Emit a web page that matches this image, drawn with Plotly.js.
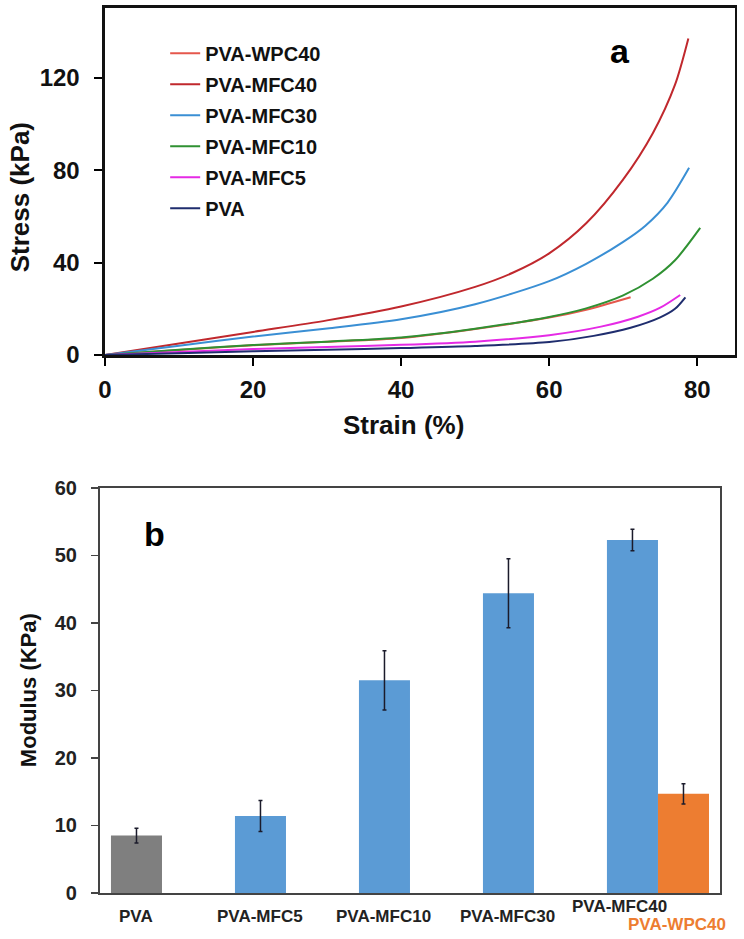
<!DOCTYPE html>
<html>
<head>
<meta charset="utf-8">
<script src="https://cdn.plot.ly/plotly-3.0.1.min.js"></script>
<style>
  html, body { margin: 0; padding: 0; background: #fff; }
  #chart { width: 744px; height: 939px; }
</style>
</head>
<body>
<div id="chart"></div>
<script>
// (a) stress-strain curves
var wpc40_strain = [0, 10, 20, 30, 40, 50, 60, 65, 71];
var wpc40_stress = [0, 2.2, 4.2, 5.7, 7.4, 11.3, 16.2, 19.6, 25];

var mfc40_strain = [0, 10, 20, 30, 40, 50, 55, 60, 65, 70, 74, 77, 78.8];
var mfc40_stress = [0, 5, 10, 15, 21, 29.5, 35.5, 44, 57, 76, 96, 117, 137];

var mfc30_strain = [0, 10, 20, 30, 40, 50, 60, 65, 70, 73, 76, 78.9];
var mfc30_stress = [0, 4, 8, 11.5, 15.5, 22, 32, 39.5, 49, 56, 66, 81];

var mfc10_strain = [0, 10, 20, 30, 40, 50, 60, 65, 70, 74, 77, 80.4];
var mfc10_stress = [0, 2.3, 4.3, 5.8, 7.6, 11.4, 16.5, 20.2, 25.8, 33, 41, 55];

var mfc5_strain = [0, 10, 20, 30, 40, 50, 60, 67, 72, 75, 77.7];
var mfc5_stress = [0, 1.3, 2.6, 3.5, 4.4, 5.8, 8.6, 12.3, 16.6, 20.5, 26];

var pva_strain = [0, 10, 20, 30, 40, 50, 60, 66, 71, 75, 77, 78.4];
var pva_stress = [0, 0.8, 1.6, 2.3, 3, 3.9, 5.6, 8.3, 11.8, 16.3, 20, 25];

// (b) modulus bars
var categories = ['PVA', 'PVA-MFC5', 'PVA-MFC10', 'PVA-MFC30', 'PVA-MFC40'];
var modulus = [8.5, 11.4, 31.5, 44.4, 52.3];
var modulus_err = [1.1, 2.3, 4.4, 5.1, 1.6];
var wpc_modulus = [null, null, null, null, 14.7];
var wpc_err = [0, 0, 0, 0, 1.5];

var FONT = '"Liberation Sans", Arial, sans-serif';

function curve(name, xs, ys, color) {
	return {
		x: xs, y: ys, name: name, legendgroup: name,
		type: 'scatter', mode: 'lines',
		line: {color: color, width: 2, shape: 'spline', smoothing: 0.8},
		xaxis: 'x', yaxis: 'y'
	};
}

var data = [
	curve('PVA-WPC40', wpc40_strain, wpc40_stress, '#e5574c'),
	curve('PVA-MFC40', mfc40_strain, mfc40_stress, '#c0282d'),
	curve('PVA-MFC30', mfc30_strain, mfc30_stress, '#3a8fd4'),
	curve('PVA-MFC10', mfc10_strain, mfc10_stress, '#2f9132'),
	curve('PVA-MFC5', mfc5_strain, mfc5_stress, '#e52ae5'),
	curve('PVA', pva_strain, pva_stress, '#1f2d6e'),
	{
		x: categories, y: modulus, type: 'bar', showlegend: false,
		marker: {color: ['#7f7f7f', '#5b9bd5', '#5b9bd5', '#5b9bd5', '#5b9bd5']},
		error_y: {type: 'data', array: modulus_err, visible: true, color: '#1b1b2b', thickness: 1.5, width: 2},
		xaxis: 'x2', yaxis: 'y2'
	},
	{
		x: categories, y: wpc_modulus, type: 'bar', showlegend: false,
		marker: {color: '#ed7d31'},
		error_y: {type: 'data', array: wpc_err, visible: true, color: '#1b1b2b', thickness: 1.5, width: 2},
		xaxis: 'x2', yaxis: 'y2'
	}
];

var annotations = [
	{xref: 'paper', yref: 'paper', x: 0.027, y: 0.790, xanchor: 'center', yanchor: 'middle',
	 text: 'Stress (kPa)', textangle: -90,
	 showarrow: false, font: {family: FONT, size: 26, color: '#111'}},
	{xref: 'paper', yref: 'paper', x: 0.543, y: 0.5474, xanchor: 'center', yanchor: 'middle',
	 text: 'Strain (%)',
	 showarrow: false, font: {family: FONT, size: 26, color: '#111'}},
	{xref: 'x', yref: 'y', x: 69.6, y: 131.6, xanchor: 'center', yanchor: 'middle', text: 'a',
	 showarrow: false, font: {family: FONT, size: 34, color: '#000'}},
	{xref: 'paper', yref: 'paper', x: 0.0376, y: 0.265, xanchor: 'center', yanchor: 'middle',
	 text: 'Modulus (KPa)', textangle: -90,
	 showarrow: false, font: {family: FONT, size: 22, color: '#111'}},
	{xref: 'paper', yref: 'y2', x: 0.208, y: 53.2, xanchor: 'center', yanchor: 'middle', text: 'b',
	 showarrow: false, font: {family: FONT, size: 34, color: '#000'}}
];

// category labels sit under the left bar of each group
for (var i = 0; i < categories.length; i++) {
	var last = (i == categories.length - 1);
	annotations.push({
		xref: 'x2', yref: 'y2 domain', x: categories[i], y: 0,
		xshift: last ? -38 : -26, yshift: last ? -2 : -12, yanchor: 'top',
		text: categories[i], showarrow: false,
		font: {family: FONT, size: 17, color: '#222'}
	});
}
annotations.push({
	xref: 'x2', yref: 'y2 domain', x: categories[4], y: 0,
	xshift: 19, yshift: -20, yanchor: 'top',
	text: 'PVA-WPC40', showarrow: false,
	font: {family: FONT, size: 17, color: '#ed7d31'}
});

var layout = {
	width: 744, height: 939,
	margin: {l: 0, r: 0, t: 0, b: 0},
	paper_bgcolor: '#fff', plot_bgcolor: '#fff',
	font: {family: FONT, color: '#111'},
	showlegend: true,
	legend: {
		x: 0.222, y: 0.964, xanchor: 'left', yanchor: 'top',
		bgcolor: 'rgba(0,0,0,0)', font: {family: FONT, size: 20, color: '#111'},
		traceorder: 'grouped', tracegroupgap: 2
	},
	xaxis: {
		domain: [0.1411, 0.9879], anchor: 'y', range: [0, 85.1],
		tickvals: [0, 20, 40, 60, 80], ticks: 'outside', ticklen: 8, tickwidth: 2, tickcolor: '#000',
		ticklabelstandoff: 4,
		tickfont: {family: FONT, size: 24, color: '#111'},
		showgrid: false, zeroline: false,
		showline: true, linecolor: '#111', linewidth: 2.5, mirror: true
	},
	yaxis: {
		domain: [0.6219, 0.9915], anchor: 'x', range: [0, 150.2],
		tickvals: [0, 40, 80, 120], ticks: 'outside', ticklen: 8, tickwidth: 2, tickcolor: '#000',
		ticklabelstandoff: 10,
		tickfont: {family: FONT, size: 24, color: '#111'},
		showgrid: false, zeroline: false,
		showline: true, linecolor: '#111', linewidth: 2.5, mirror: true
	},
	xaxis2: {
		domain: [0.1344, 0.9677], anchor: 'y2', type: 'category', range: [-0.5, 4.5],
		showticklabels: false, ticks: '',
		showgrid: false, zeroline: false,
		showline: true, linecolor: '#444', linewidth: 2, mirror: true
	},
	yaxis2: {
		domain: [0.049, 0.4803], anchor: 'x2', range: [0, 60],
		dtick: 10, ticks: 'outside', ticklen: 7, tickwidth: 1.5, tickcolor: '#444',
		ticklabelstandoff: 10,
		tickfont: {family: FONT, size: 20, color: '#222'},
		showgrid: false, zeroline: false,
		showline: true, linecolor: '#444', linewidth: 2, mirror: true
	},
	barmode: 'group', bargap: 0.177, bargroupgap: 0,
	annotations: annotations
};

// bold text like the original figure
layout.xaxis.tickfont.weight = 'bold';
layout.yaxis.tickfont.weight = 'bold';
layout.yaxis2.tickfont.weight = 'bold';
layout.legend.font.weight = 'bold';
for (var a of annotations) {
	a.font.weight = 'bold';
}

Plotly.newPlot('chart', data, layout, {staticPlot: true});
</script>
</body>
</html>
